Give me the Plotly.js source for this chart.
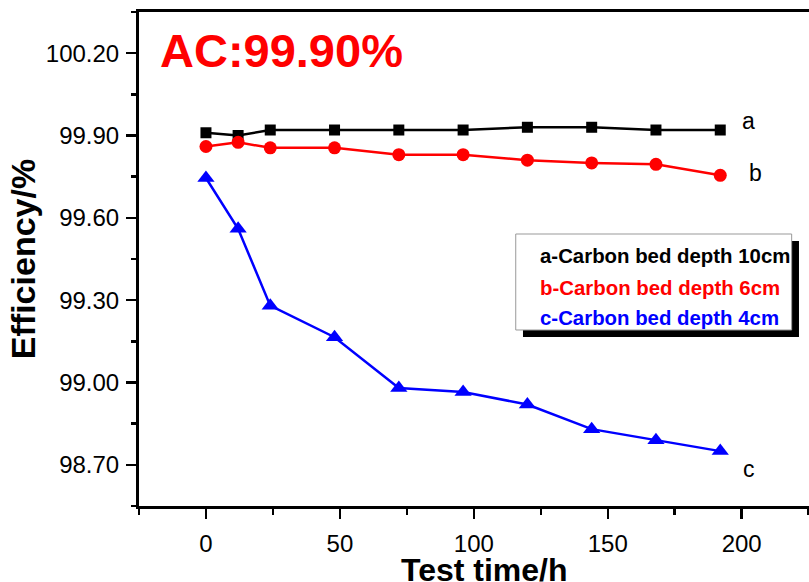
<!DOCTYPE html>
<html>
<head>
<meta charset="utf-8">
<script src="https://cdn.plot.ly/plotly-3.0.1.min.js"></script>
<style>html,body{margin:0;padding:0;background:#fff;overflow:hidden;width:809px;height:582px;}#chart{width:829px;height:582px;}</style>
</head>
<body>
<div id="chart"></div>
<script>
// Test time (h)
var testTime = [0, 12, 24, 48, 72, 96, 120, 144, 168, 192];
// Efficiency (%) per carbon bed depth
var depth10cm = [99.91, 99.90, 99.92, 99.92, 99.92, 99.92, 99.93, 99.93, 99.92, 99.92];
var depth6cm  = [99.86, 99.875, 99.855, 99.855, 99.83, 99.83, 99.81, 99.80, 99.795, 99.755];
var depth4cm  = [99.745, 99.56, 99.28, 99.165, 98.98, 98.965, 98.92, 98.83, 98.79, 98.75];

var seriesNames = ["a-Carbon bed depth 10cm", "b-Carbon bed depth 6cm", "c-Carbon bed depth 4cm"];
var seriesLabels = ["a", "b", "c"];
var headline = "AC:99.90%";
var xTitle = "Test time/h";
var yTitle = "Efficiency/%";

var FONT = "Arial, 'Liberation Sans', sans-serif";
var colors = ["#000000", "#ff0000", "#0000ff"];

var traces = [
  {x: testTime, y: depth10cm, name: seriesNames[0], mode: "lines+markers",
   line: {color: colors[0], width: 2.5}, marker: {symbol: "square", size: 11, color: colors[0]}},
  {x: testTime, y: depth6cm, name: seriesNames[1], mode: "lines+markers",
   line: {color: colors[1], width: 2.5}, marker: {symbol: "circle", size: 13, color: colors[1]}},
  {x: testTime, y: depth4cm, name: seriesNames[2], mode: "lines+markers",
   line: {color: colors[2], width: 2.5}, marker: {symbol: "triangle-up", size: 15, color: colors[2]}}
];

var annotations = [
  {xref: "paper", yref: "paper", x: 0.0275, y: 0.923, xanchor: "left", yanchor: "middle",
   text: headline, showarrow: false, font: {family: FONT, size: 47, color: "#ff0000", weight: "bold"}},
  // x-axis title (placed as annotation so it can sit exactly like the reference)
  {xref: "paper", yref: "paper", x: 0.5, y: -0.1296, xanchor: "center", yanchor: "middle",
   text: xTitle, showarrow: false, font: {family: FONT, size: 32, color: "#000", weight: "bold"}},
  {xref: "x", yref: "y", x: testTime[testTime.length-1], y: depth10cm[depth10cm.length-1],
   xshift: 28, yshift: 9, text: seriesLabels[0], showarrow: false, xanchor: "center", yanchor: "middle",
   font: {family: FONT, size: 23, color: "#000"}},
  {xref: "x", yref: "y", x: testTime[testTime.length-1], y: depth6cm[depth6cm.length-1],
   xshift: 35, yshift: 2, text: seriesLabels[1], showarrow: false, xanchor: "center", yanchor: "middle",
   font: {family: FONT, size: 23, color: "#000"}},
  {xref: "x", yref: "y", x: testTime[testTime.length-1], y: depth4cm[depth4cm.length-1],
   xshift: 29, yshift: -18, text: seriesLabels[2], showarrow: false, xanchor: "center", yanchor: "middle",
   font: {family: FONT, size: 23, color: "#000"}}
];
var legendY = [0.506, 0.441, 0.381];
for (var i = 0; i < seriesNames.length; i++) {
  annotations.push({xref: "paper", yref: "paper", x: 0.5778, y: legendY[i], xanchor: "left", yanchor: "middle",
    text: seriesNames[i], showarrow: false, font: {family: FONT, size: 20.4, color: colors[i], weight: "bold"}});
}

var shapes = [
  {type: "rect", xref: "paper", yref: "paper", x0: 0.5565, x1: 0.9565, y0: 0.342, y1: 0.5364,
   fillcolor: "#000", line: {width: 0}, layer: "above"},
  {type: "rect", xref: "paper", yref: "paper", x0: 0.546, x1: 0.9459, y0: 0.3563, y1: 0.5506,
   fillcolor: "#fff", line: {color: "#999", width: 1}, layer: "above"}
];

var layout = {
  width: 829, height: 582,
  margin: {l: 139, r: 0, t: 12, b: 76, pad: 0},
  paper_bgcolor: "#fff", plot_bgcolor: "#fff",
  showlegend: false,
  font: {family: FONT, color: "#000"},
  xaxis: {
    range: [-25, 232.6], tick0: 0, dtick: 50, ticks: "outside", ticklen: 10, tickwidth: 2.5, tickcolor: "#000",
    minor: {ticks: "outside", ticklen: 6, tickwidth: 2.5, tickcolor: "#000", dtick: 25},
    showline: true, linewidth: 3, linecolor: "#000", mirror: true, showgrid: false, zeroline: false,
    tickfont: {family: FONT, size: 24, color: "#000"}, ticklabelstandoff: 4
  },
  yaxis: {
    range: [98.55, 100.35], tick0: 98.7, dtick: 0.3, tickformat: ".2f",
    ticks: "outside", ticklen: 10, tickwidth: 2.5, tickcolor: "#000",
    minor: {ticks: "outside", ticklen: 5, tickwidth: 2.5, tickcolor: "#000", dtick: 0.15},
    showline: true, linewidth: 3, linecolor: "#000", mirror: false, showgrid: false, zeroline: false,
    tickfont: {family: FONT, size: 24, color: "#000"}, ticklabelstandoff: 2,
    title: {text: yTitle, standoff: 0, font: {family: FONT, size: 34, color: "#000", weight: "bold"}}
  },
  annotations: annotations,
  shapes: shapes
};

Plotly.newPlot("chart", traces, layout, {displayModeBar: false, staticPlot: true});
</script>
</body>
</html>
